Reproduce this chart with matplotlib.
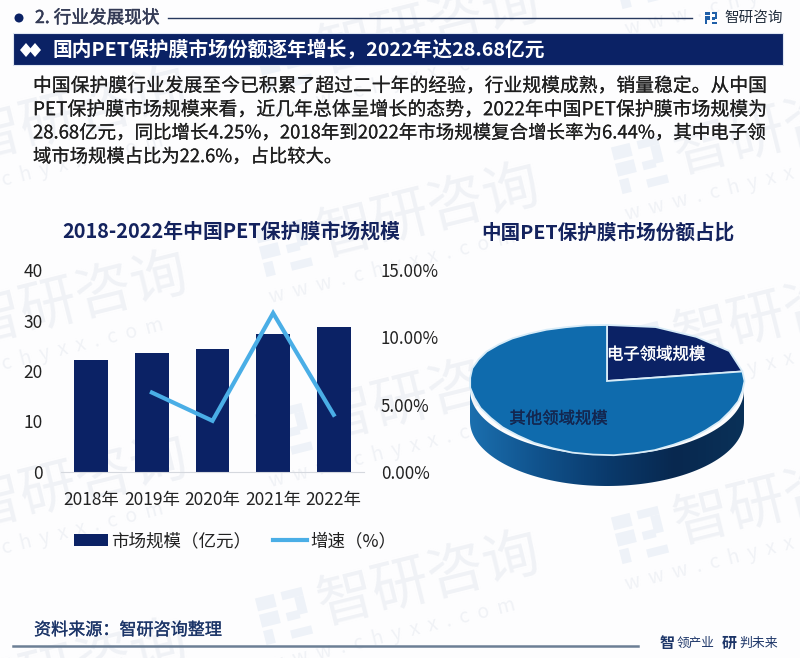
import numpy as np
import matplotlib
matplotlib.use('Agg')
import matplotlib.pyplot as plt
import matplotlib.patheffects as pe
from matplotlib.patches import Rectangle, Polygon, Circle
from matplotlib.colors import LinearSegmentedColormap

plt.rcParams['font.family'] = ['Noto Sans CJK SC', 'DejaVu Sans']

years = ['2018年', '2019年', '2020年', '2021年', '2022年']
market_size = [22.2, 23.6, 24.4, 27.3, 28.68]
growth_pct = [np.nan, 5.9, 3.8, 11.8, 4.25]
left_ticks = [0, 10, 20, 30, 40]
right_ticks = [0, 5, 10, 15]
bar_label = '市场规模（亿元）'
line_label = '增速（%）'
pie_labels = ['电子领域规模', '其他领域规模']
pie_shares = [22.6, 77.4]
paragraph = [
    '中国保护膜行业发展至今已积累了超过二十年的经验，行业规模成熟，销量稳定。从中国',
    'PET保护膜市场规模来看，近几年总体呈增长的态势，2022年中国PET保护膜市场规模为',
    '28.68亿元，同比增长4.25%，2018年到2022年市场规模复合增长率为6.44%，其中电子领',
    '域市场规模占比为22.6%，占比较大。',
]
paragraph_sizes = [13.55, 13.6, 13.3, 13.2]

W, H = 800, 658
NAVY = '#0b2265'
fig = plt.figure(figsize=(W / 100, H / 100), dpi=100, facecolor='#fdfdfe')


def px_axes(l, t, r, b, **kw):
    return fig.add_axes([l / W, 1 - b / H, (r - l) / W, (b - t) / H], **kw)


def heavy(color, lw=0.35):
    return [pe.withStroke(linewidth=lw, foreground=color)]


bg = px_axes(0, 0, W, H)
bg.set_xlim(0, W); bg.set_ylim(H, 0); bg.axis('off')

WM = '#f0f2f6'
ANG = 14


def logo(cx, cy, s, color, ang=0):
    t = np.deg2rad(ang)
    rot = np.array([[np.cos(t), np.sin(t)], [-np.sin(t), np.cos(t)]])
    blocks = [(-1, -1, .8, .55), (-1, -.3, .8, .55), (-1, .4, .4, .6),
              (.1, -1, .9, .35), (.6, -.65, .4, .75), (.1, -.1, .55, .35), (.1, .65, .9, .35)]
    for x, y, w, h in blocks:
        pts = np.array([[x, y], [x + w, y], [x + w, y + h], [x, y + h]]) * s
        pts = pts @ rot.T + [cx, cy]
        bg.add_patch(Polygon(pts, fc=color, ec='none', zorder=1))


marks = [(-68, 152), (-68, 336), (-68, 520), (-68, 704),
         (284, 64), (284, 248), (284, 432), (284, 616),
         (640, -20), (640, 165), (640, 350), (640, 535)]
for x, y in marks:
    logo(x, y, 24, '#eef2f8', ANG)
    bg.text(x + 35, y - 9, '智研咨询', fontsize=41, color=WM, rotation=ANG, rotation_mode='anchor',
            ha='left', va='center', zorder=1)
    bg.text(x - 15, y + 50, 'w  w  w  .  c  h  y  x  x  .  c  o  m', fontsize=14, color=WM, rotation=ANG,
            rotation_mode='anchor', ha='left', va='center', zorder=1)

# header
bg.add_patch(Circle((19, 18), 4.5, fc=NAVY, ec='none', zorder=3))
bg.text(35, 18, '2. 行业发展现状', fontsize=12.7, color='#333a55', va='center', zorder=3,
        path_effects=heavy('#333a55'))
bg.plot([168, 692], [18, 18], color='#27395f', lw=1, zorder=3)
logo(711, 18, 6, '#1f5fa8')
bg.text(724, 18, '智研咨询', fontsize=10.5, color='#24303f', va='center', zorder=3)

bg.add_patch(Rectangle((13, 33), 770, 32, fc=NAVY, ec='#dfe6f2', lw=.8, zorder=3))
for cx in (26, 35):
    bg.add_patch(Polygon([[cx - 6, 50], [cx, 43], [cx + 6, 50], [cx, 57]], fc='white', ec='none', zorder=4))
bg.text(52, 50, '国内PET保护膜市场份额逐年增长，2022年达28.68亿元', fontsize=14.2, color='white',
        va='center', fontweight='bold', zorder=4)

for i, (line_text, size) in enumerate(zip(paragraph, paragraph_sizes)):
    bg.text(33, 86 + i * 23.7, line_text, fontsize=size, color='#1e1e1e', va='center', zorder=4,
            path_effects=heavy('#1e1e1e', .1))

bg.text(231.5, 231, '2018-2022年中国PET保护膜市场规模', fontsize=14.3, color='#14235e', ha='center',
        va='center', fontweight='bold', zorder=4)
bg.text(608, 233, '中国PET保护膜市场份额占比', fontsize=14.1, color='#14235e', ha='center',
        va='center', fontweight='bold', zorder=4)

# footer
FOOT = '#1c3568'
bg.text(34, 630, '资料来源：智研咨询整理', fontsize=12.3, color=FOOT, va='center', zorder=4,
        path_effects=heavy(FOOT, .2))
bg.plot([13, 638], [646, 646], color='#6c7f95', lw=1.8, zorder=3)
bg.text(659.5, 643, '智', fontsize=10.8, color=FOOT, va='center', fontweight='bold', zorder=4)
bg.text(676.5, 643, '领产业', fontsize=9.1, color=FOOT, va='center', zorder=4)
bg.text(722, 643, '研', fontsize=10.8, color=FOOT, va='center', fontweight='bold', zorder=4)
bg.text(739, 643, '判未来', fontsize=9.3, color=FOOT, va='center', zorder=4)

# bar + line chart
ax = px_axes(61, 270, 364, 472)
ax.patch.set_alpha(0)
x = np.arange(len(years))
bars = ax.bar(x, market_size, width=0.56, color=NAVY, label=bar_label, zorder=2)
ax.set_xlim(-.5, 4.5); ax.set_ylim(0, 40)
ax.set_xticks(x, years)
ax.set_yticks(left_ticks)
ax.tick_params(length=0, labelsize=12.5, labelcolor='#222222')
ax.tick_params(axis='y', pad=13)
ax.tick_params(axis='x', pad=14)
for s in ('top', 'left', 'right'):
    ax.spines[s].set_visible(False)
ax.spines['bottom'].set_color('#d5d8de')

ax2 = ax.twinx()
ax2.patch.set_alpha(0)
line, = ax2.plot(x, growth_pct, color='#4aaee6', lw=3, label=line_label, solid_joinstyle='miter', zorder=3)
ax2.set_ylim(0, 15)
ax2.set_yticks(right_ticks, [f'{v:.2f}%' for v in right_ticks])
ax2.tick_params(length=0, labelsize=12.2, labelcolor='#222222', pad=12)
for s in ax2.spines.values():
    s.set_visible(False)
fig.legend(handles=[bars, line], labels=[bar_label, line_label], loc='center', ncols=2, frameon=False,
           bbox_to_anchor=(235 / W, 1 - 541 / H), fontsize=12.6, handlelength=1.95, handletextpad=.22,
           columnspacing=1.2, labelcolor='#222222', handleheight=0.7)

# pie chart
RX, RY, CX, CY, DEPTH = 137, 65, 607, 390, 31
axp = px_axes(450, 300, 770, 500)
axp.patch.set_alpha(0)
wedges, _ = axp.pie(pie_shares, startangle=90, counterclock=False, radius=1, colors=[NAVY, '#0f6bad'])
axp.set_aspect('auto')
axp.axis('off')

d = DEPTH / RY
th = np.linspace(np.pi, 2 * np.pi, 100)
side = np.vstack([np.c_[np.cos(th), np.sin(th) - d],
                  np.c_[np.cos(th[::-1]), np.sin(th[::-1])]])
cmap = LinearSegmentedColormap.from_list('rim', ['#1b6fae', '#10528c', '#0a3a6c', '#08284f', '#0a3158'])
img = axp.imshow(np.linspace(0, 1, 256)[None, :], cmap=cmap, aspect='auto', extent=(-1, 1, -1 - d, 0.2), zorder=1)
side_patch = Polygon(side, closed=True, fc='none', ec='none', transform=axp.transData)
axp.add_patch(side_patch)
img.set_clip_path(side_patch)
axp.set_xlim((450 - CX) / RX, (770 - CX) / RX)
axp.set_ylim((CY - 500) / RY, (CY - 300) / RY)

K = 9 / RY
for w in wedges:
    poly = w.get_path().to_polygons(closed_only=False)[0]
    poly = np.c_[poly[:, 0], poly[:, 1] + K * (1 - poly[:, 1] ** 2)]
    axp.add_patch(Polygon(poly, closed=True, fc=w.get_facecolor(), ec='#d8ecf8', lw=1.3, zorder=3))
    w.remove()
axp.text(.358, .54, pie_labels[0], fontsize=11.8, color='white', ha='center', va='center', zorder=5,
         path_effects=heavy('white', .2))
axp.text(-.354, -.446, pie_labels[1], fontsize=11.8, color='#14264f', ha='center', va='center', zorder=5,
         path_effects=heavy('#14264f', .2))

fig.savefig('out.png', dpi=100, facecolor=fig.get_facecolor())
